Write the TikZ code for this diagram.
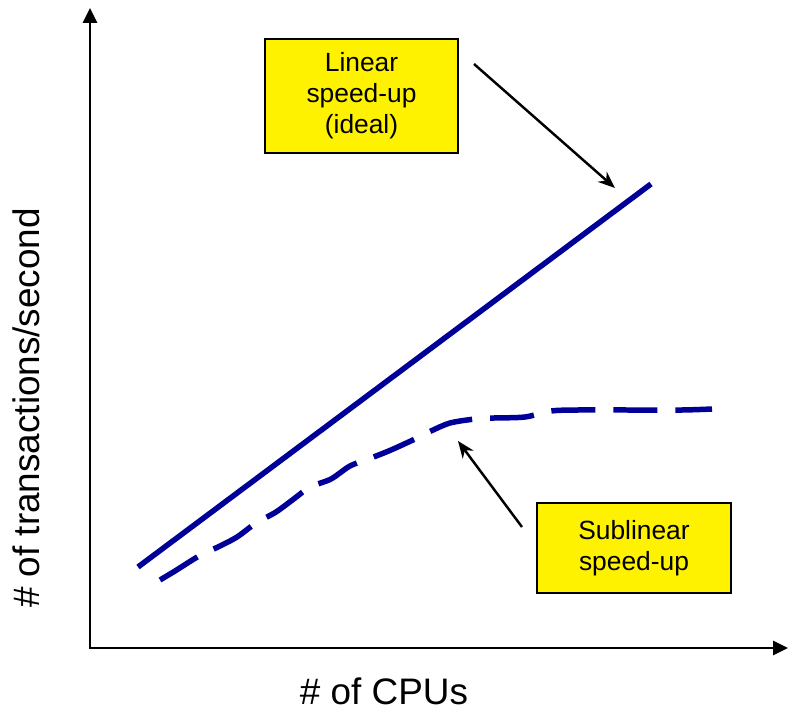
\documentclass[tikz,border=0pt]{standalone}
\usepackage{fontspec}
\setmainfont{Liberation Sans}
\usepackage{tikz}
\usetikzlibrary{arrows.meta}
\tikzstyle{callout} = [draw=black, line width=1.4pt, fill=yellow, align=center, font=\fontsize{15}{17.6}\selectfont]
\tikzstyle{pointer} = [line width=1.4pt, -{Stealth[length=0.34cm,width=0.27cm]}]
\tikzstyle{axis} = [line width=1.7pt, {Triangle[length=0.3cm,width=0.28cm]}-{Triangle[length=0.3cm,width=0.28cm]}]
\tikzstyle{axlabel} = [font=\fontsize{21}{25}\selectfont]
\definecolor{db}{HTML}{000099}

\begin{document}
\begin{tikzpicture}[x=0.02cm,y=-0.02cm]
			\useasboundingbox (0,0) rectangle (788,716);
			% axes
			\coordinate (ytip) at (90,8);
			\coordinate (orig) at (90,648);
			\coordinate (xtip) at (788,648);
			\draw[axis] (ytip) -- (orig) -- (xtip);
			\node[axlabel, rotate=90] (ylab) at (26,408) {\# of transactions/second};
			\node[axlabel, anchor=base] (xlab) at (384,704) {\# of CPUs};
			% the two curves
			\draw[line width=0.11cm, db] (138,567) -- (651,184);
			\draw[line width=0.11cm, db, dash pattern=on 0.88cm off 0.36cm] plot[smooth, tension=0.5] coordinates {(160,580) (175,571) (199,556) (218,547) (237,537) (256,523) (276,512) (295,498) (310,487) (331,479) (350,466) (371,458) (391,450) (415,439) (431,431) (450,423) (475,419) (494,418) (525,417) (551,411) (578,410) (628,410) (682,410) (712,409)};
			% callouts
			\node[callout, minimum width=3.86cm, minimum height=2.28cm] (lin) at (361.5,96) {Linear\\speed-up\\(ideal)};
			\node[callout, minimum width=3.88cm, minimum height=1.8cm] (sub) at (634,548) {Sublinear\\speed-up};
			\coordinate (linfrom) at (474,64);
			\coordinate (linto) at (615,188);
			\coordinate (subfrom) at (522,527);
			\coordinate (subto) at (458,441);
			\draw[pointer] (linfrom) -- (linto);
			\draw[pointer] (subfrom) -- (subto);
\end{tikzpicture}
\end{document}
